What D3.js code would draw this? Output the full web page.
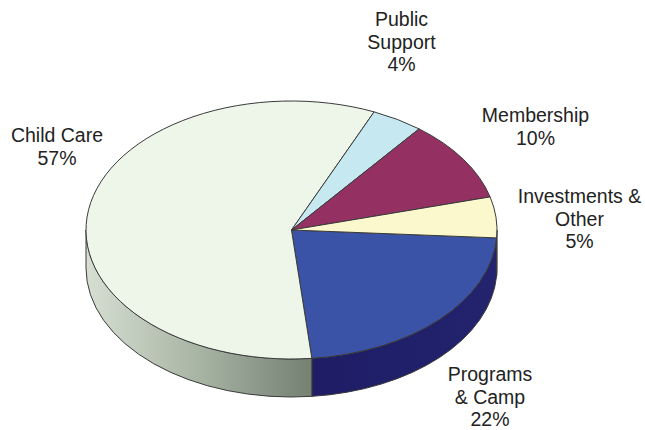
<!DOCTYPE html>
<html>
<head>
<meta charset="utf-8">
<script src="https://cdn.jsdelivr.net/npm/d3@7"></script>
<style>
  body { margin: 0; background: #fff; }
  svg { display: block; }
</style>
</head>
<body>
<svg width="645" height="430"></svg>
<script>
// slice order as drawn, clockwise from about 3 o'clock
var categories = ["Programs & Camp", "Child Care", "Public Support", "Membership", "Investments & Other"];
var values = [22, 57, 4, 10, 5];
var labelLines = [
  ["Programs", "& Camp", "22%"],
  ["Child Care", "57%"],
  ["Public", "Support", "4%"],
  ["Membership", "10%"],
  ["Investments &", "Other", "5%"]
];

var svg = d3.select("svg");

// pie geometry
var cx = 291.5, cy = 230, rx = 205.5, ry = 129, depth = 38;
var startDeg = 93.5;

// where each label block is centred (x) and its first baseline (y)
var labelAt = {
  "Programs & Camp": [490, 381],
  "Child Care": [57, 142],
  "Public Support": [401.5, 26],
  "Membership": [535.5, 122],
  "Investments & Other": [579.5, 203]
};

var topColor = d3.scaleOrdinal()
  .domain(categories)
  .range(["#3a53a6", "#eef6ea", "#c6e8f1", "#943062", "#fcf8cd"]);

var sideColor = d3.scaleOrdinal()
  .domain(categories)
  .range(["url(#progSide)", "url(#careSide)", "#8fb8c4", "#5e1c3c", "#cfc99a"]);

var defs = svg.append("defs");
var g1 = defs.append("linearGradient").attr("id", "careSide")
  .attr("gradientUnits", "userSpaceOnUse")
  .attr("x1", cx - rx).attr("y1", 0).attr("x2", 330).attr("y2", 0);
g1.append("stop").attr("offset", "0%").attr("stop-color", "#d6dfd2");
g1.append("stop").attr("offset", "45%").attr("stop-color", "#a9b5a5");
g1.append("stop").attr("offset", "100%").attr("stop-color", "#6c786a");

var g2 = defs.append("linearGradient").attr("id", "progSide")
  .attr("gradientUnits", "userSpaceOnUse")
  .attr("x1", 330).attr("y1", 0).attr("x2", cx + rx).attr("y2", 0);
g2.append("stop").attr("offset", "0%").attr("stop-color", "#1e1d66");
g2.append("stop").attr("offset", "100%").attr("stop-color", "#23236e");

var pie = d3.pie()
  .sort(null)
  .value(function(d) { return d.value; })
  .startAngle(startDeg * Math.PI / 180)
  .endAngle(startDeg * Math.PI / 180 + 2 * Math.PI);

var data = categories.map(function(c, i) {
  return { name: c, value: values[i], lines: labelLines[i] };
});
var arcs = pie(data);

// pie angle: 0 at 12 o'clock, clockwise
function px(a) { return cx + rx * Math.sin(a); }
function py(a) { return cy - ry * Math.cos(a); }

function sidePath(a0, a1) {
  var large = (a1 - a0) > Math.PI ? 1 : 0;
  return "M" + px(a0) + "," + py(a0) +
    "A" + rx + "," + ry + " 0 " + large + " 1 " + px(a1) + "," + py(a1) +
    "L" + px(a1) + "," + (py(a1) + depth) +
    "A" + rx + "," + ry + " 0 " + large + " 0 " + px(a0) + "," + (py(a0) + depth) + "Z";
}

function topPath(d) {
  var large = (d.endAngle - d.startAngle) > Math.PI ? 1 : 0;
  return "M" + cx + "," + cy +
    "L" + px(d.startAngle) + "," + py(d.startAngle) +
    "A" + rx + "," + ry + " 0 " + large + " 1 " + px(d.endAngle) + "," + py(d.endAngle) + "Z";
}

// front half of the rim (pie angles 90..270 deg) is the visible wall
var sides = [];
arcs.forEach(function(d) {
  [0, 2 * Math.PI].forEach(function(off) {
    var lo = Math.max(d.startAngle, Math.PI / 2 + off);
    var hi = Math.min(d.endAngle, 3 * Math.PI / 2 + off);
    if (hi - lo > 0.001) sides.push({ name: d.data.name, a0: lo, a1: hi });
  });
});

svg.append("g")
  .selectAll("path")
  .data(sides)
  .enter()
  .append("path")
  .attr("d", function(d) { return sidePath(d.a0, d.a1); })
  .attr("fill", function(d) { return sideColor(d.name); })
  .attr("stroke", "#3a3a3a")
  .attr("stroke-width", 1)
  .attr("stroke-linejoin", "round");

svg.append("g")
  .selectAll("path")
  .data(arcs)
  .enter()
  .append("path")
  .attr("d", topPath)
  .attr("fill", function(d) { return topColor(d.data.name); })
  .attr("stroke", "#3a3a3a")
  .attr("stroke-width", 1)
  .attr("stroke-linejoin", "round");

var labels = svg.append("g")
  .attr("font-family", "'Liberation Sans', Arial, sans-serif")
  .attr("font-size", 19.5)
  .attr("fill", "#222")
  .attr("text-anchor", "middle");

labels.selectAll("text")
  .data(arcs)
  .enter()
  .append("text")
  .attr("x", function(d) { return labelAt[d.data.name][0]; })
  .attr("y", function(d) { return labelAt[d.data.name][1]; })
  .each(function(d) {
    var t = d3.select(this);
    var pos = labelAt[d.data.name];
    d.data.lines.forEach(function(line, i) {
      t.append("tspan")
        .attr("x", pos[0])
        .attr("y", pos[1] + i * 22.5)
        .text(line);
    });
  });
</script>
</body>
</html>
